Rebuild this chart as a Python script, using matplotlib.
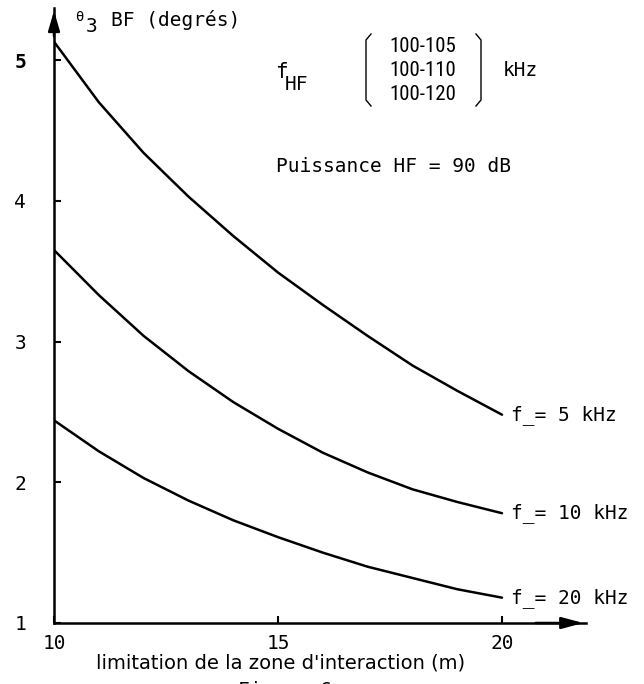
import matplotlib
matplotlib.use("Agg")
import matplotlib.pyplot as plt
from matplotlib.lines import Line2D

# ---- data ----
x_vals = [10, 11, 12, 13, 14, 15, 16, 17, 18, 19, 20]
theta_5k = [5.13, 4.70, 4.34, 4.03, 3.75, 3.49, 3.26, 3.04, 2.83, 2.65, 2.48]
theta_10k = [3.65, 3.33, 3.04, 2.79, 2.57, 2.38, 2.21, 2.07, 1.95, 1.86, 1.78]
theta_20k = [2.44, 2.22, 2.03, 1.87, 1.73, 1.61, 1.50, 1.40, 1.32, 1.24, 1.18]
series_vals = [theta_5k, theta_10k, theta_20k]
series_labels = ["f_= 5 kHz", "f_= 10 kHz", "f_= 20 kHz"]
x_ticks = [10, 15, 20]
y_ticks = [1, 2, 3, 4, 5]
hf_bands = ["100-105", "100-110", "100-120"]

MONO = ['DejaVu Sans Mono', 'DejaVu Sans']
plt.rcParams['font.family'] = MONO
FS = 14

W, H = 644, 684
PT = 72 / 100  # points per pixel
fig = plt.figure(figsize=(W / 100, H / 100), dpi=100)
ax_l, ax_r, ax_b, ax_t = 54, 586, 623, 8
ax = fig.add_axes([ax_l / W, 1 - ax_b / H, (ax_r - ax_l) / W, (ax_b - ax_t) / H])
ax.set_xlim(10, 10 + (ax_r - ax_l) / 44.8)
ax.set_ylim(1, 1 + (ax_b - ax_t) / 140.75)

for ys, lab in zip(series_vals, series_labels):
    ax.plot(x_vals, ys, color="black", lw=1.8, solid_capstyle="round", solid_joinstyle="round")
    ax.annotate(lab, (x_vals[-1], ys[-1]), xytext=(9 * PT, 0), textcoords="offset points",
                ha="left", va="center", fontsize=FS, annotation_clip=False)

for s in ["top", "right"]:
    ax.spines[s].set_visible(False)
for s in ["left", "bottom"]:
    ax.spines[s].set_linewidth(1.8)

# arrows at axis ends
ax.annotate("", xy=(1.0, 0), xycoords="axes fraction", xytext=(0.9, 0),
            arrowprops=dict(arrowstyle="-|>,head_length=1.3,head_width=0.35", color="black", lw=1.8),
            annotation_clip=False)
ax.annotate("", xy=(0, 1.0), xycoords="axes fraction", xytext=(0, 0.95),
            arrowprops=dict(arrowstyle="-|>,head_length=1.2,head_width=0.35", color="black", lw=1.8),
            annotation_clip=False)

ax.set_xticks(x_ticks)
ax.set_yticks(y_ticks)
ax.tick_params(direction="in", length=5, width=1.5, labelsize=FS, pad=8)
ax.tick_params(axis="y", pad=20)
ax.set_xticklabels([str(v) for v in x_ticks])
ax.set_yticklabels([str(v) for v in y_ticks])
for t in ax.get_yticklabels():
    if t.get_text() == "5":
        t.set_fontweight("bold")

ax.set_xlabel("limitation de la zone d'interaction (m)", fontsize=14, va="center",
              family=['DejaVu Sans'])
ax.xaxis.set_label_coords((281 - ax_l) / (ax_r - ax_l), -(663 - ax_b) / (ax_b - ax_t))

def fx(px):
    return px / W

def fy(py):
    return 1 - py / H

fig.text(fx(75), fy(17), "θ", fontsize=10, va="center", ha="left")
fig.text(fx(86), fy(26), "3", fontsize=FS, va="center", ha="left")
fig.text(fx(111), fy(20), "BF (degrés)", fontsize=FS, va="center", ha="left")
fig.text(fx(276), fy(72), "f", fontsize=FS + 1, va="center", ha="left")
fig.text(fx(285), fy(85), "HF", fontsize=FS, va="center", ha="left")
for i, b in enumerate(hf_bands):
    fig.text(fx(423), fy(46 + 24 * i), b, fontsize=15, va="center", ha="center",
             family=['Roboto Condensed', 'DejaVu Sans'])
fig.text(fx(503), fy(70), "kHz", fontsize=FS, va="center", ha="left")
fig.text(fx(276), fy(167), "Puissance HF = 90 dB", fontsize=FS, va="center", ha="left")
fig.text(fx(285), fy(690), "Figure 6", fontsize=FS, va="center", ha="center")

# brackets around the band list
def bracket(x0, hook):
    xs = [x0 + hook, x0, x0, x0 + hook]
    ys = [34, 40, 100, 106]
    fig.add_artist(Line2D([fx(v) for v in xs], [fy(v) for v in ys], color="black", lw=1.0,
                          transform=fig.transFigure))

bracket(366, 5)
bracket(481, -5)

fig.savefig("out.png", dpi=100)
